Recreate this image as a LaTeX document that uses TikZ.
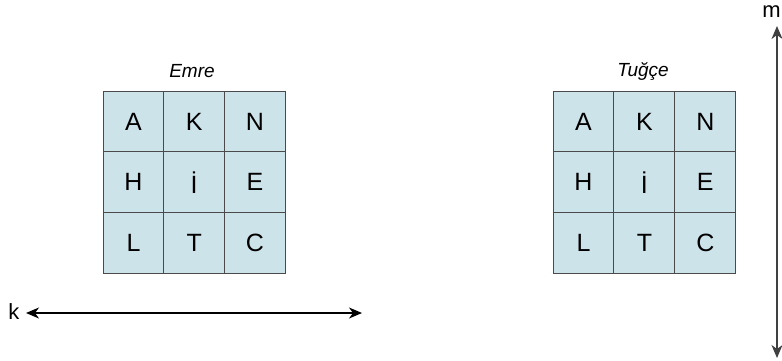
\documentclass[tikz,border=0pt]{standalone}
\usepackage{fontspec}
\setmainfont{Liberation Sans}
\usetikzlibrary{arrows.meta}
\definecolor{cellfill}{HTML}{CDE3EA}
\definecolor{gridline}{HTML}{4A4A4A}
\begin{document}
\begin{tikzpicture}[x=1pt,y=-1pt,
  cell/.style={draw=gridline,line width=1pt,fill=cellfill,minimum width=61pt,minimum height=61pt,inner sep=0pt,font=\fontsize{25}{27}\selectfont},
  title/.style={font=\fontsize{19}{21}\selectfont\itshape},
  axis/.style={line width=1.3pt,{Stealth[length=13pt,width=11pt,inset=4pt]}-{Stealth[length=13pt,width=11pt,inset=4pt]}},
  lbl/.style={font=\fontsize{22}{24}\selectfont,inner sep=0pt}]
\useasboundingbox (0,0) rectangle (782,360);
\foreach \r/\row in {0/{A,K,N},1/{H,İ,E},2/{L,T,C}}{
  \foreach \t [count=\c from 0] in \row {
    \node[cell] (L\r\c) at (133.5+\c*60.7,121.5+\r*60.7) {\t};
    \node[cell] (R\r\c) at (583.5+\c*60.9,121.5+\r*60.7) {\t};
  }
}
\node[title] (emre) at (192,71) {Emre};
\node[title] (tugce) at (643,71) {Tuğçe};
\node[lbl] (k) at (14,312) {k};
\coordinate (ka) at (26,313);
\coordinate (kb) at (362,313);
\draw[axis] (ka) -- (kb);
\node[lbl,anchor=east] (m) at (781,12) {m};
\coordinate (ma) at (777,26);
\coordinate (mb) at (777,358);
\draw[axis,draw=black!75] (ma) -- (mb);
\end{tikzpicture}
\end{document}
